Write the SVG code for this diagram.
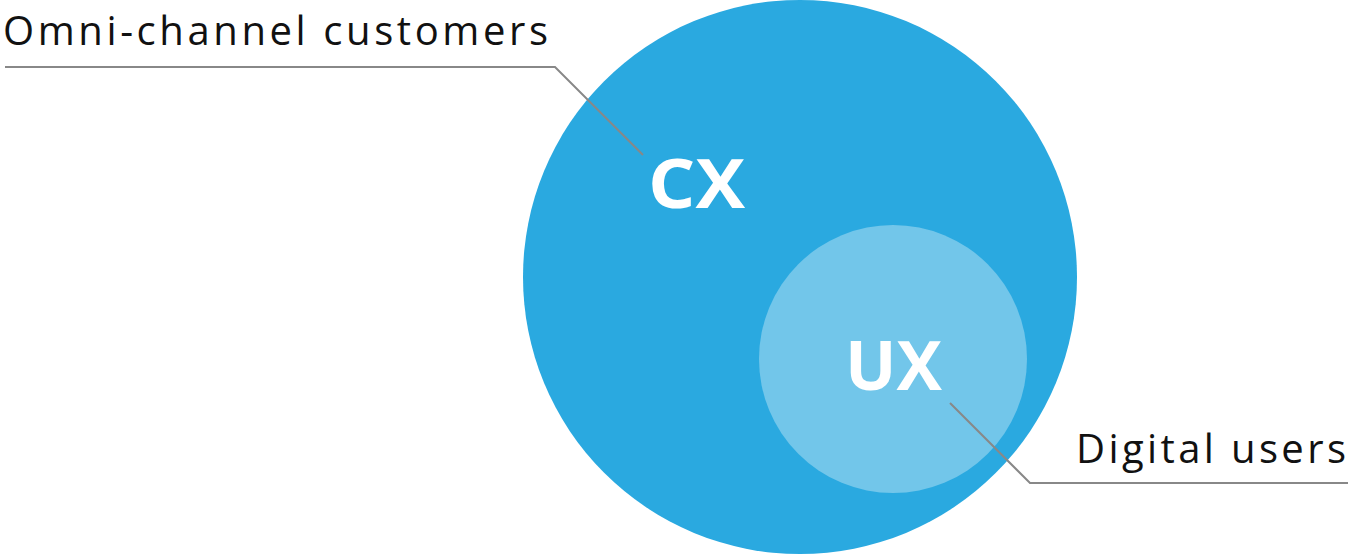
<svg xmlns="http://www.w3.org/2000/svg" width="1348" height="555" viewBox="0 0 1348 555">
<style>
.lbl{font-family:"Open Sans","Liberation Sans",sans-serif;font-size:40px;fill:#111}
.big{font-family:"Open Sans","Liberation Sans",sans-serif;font-size:68px;font-weight:bold;fill:#fff}
.ln{fill:none;stroke:#888;stroke-width:2}
</style>
<rect width="1348" height="555" fill="#fff"/>
<g id="cx"><circle cx="800" cy="277" r="277" fill="#2AA9E0"/></g>
<g id="ux"><circle cx="893" cy="359" r="134" fill="#72C6EA"/></g>
<g id="connectors">
<polyline class="ln" points="5,67 555,67 643,155"/>
<polyline class="ln" points="950,403 1030,483 1348,483"/>
</g>
<g id="texts">
<text class="big" x="648" y="208" textLength="97" lengthAdjust="spacingAndGlyphs">CX</text>
<text class="big" x="845" y="390" textLength="97" lengthAdjust="spacingAndGlyphs">UX</text>
<text class="lbl" x="3" y="45" textLength="545">Omni-channel customers</text>
<text class="lbl" x="1076" y="463" textLength="270">Digital users</text>
</g>
</svg>
